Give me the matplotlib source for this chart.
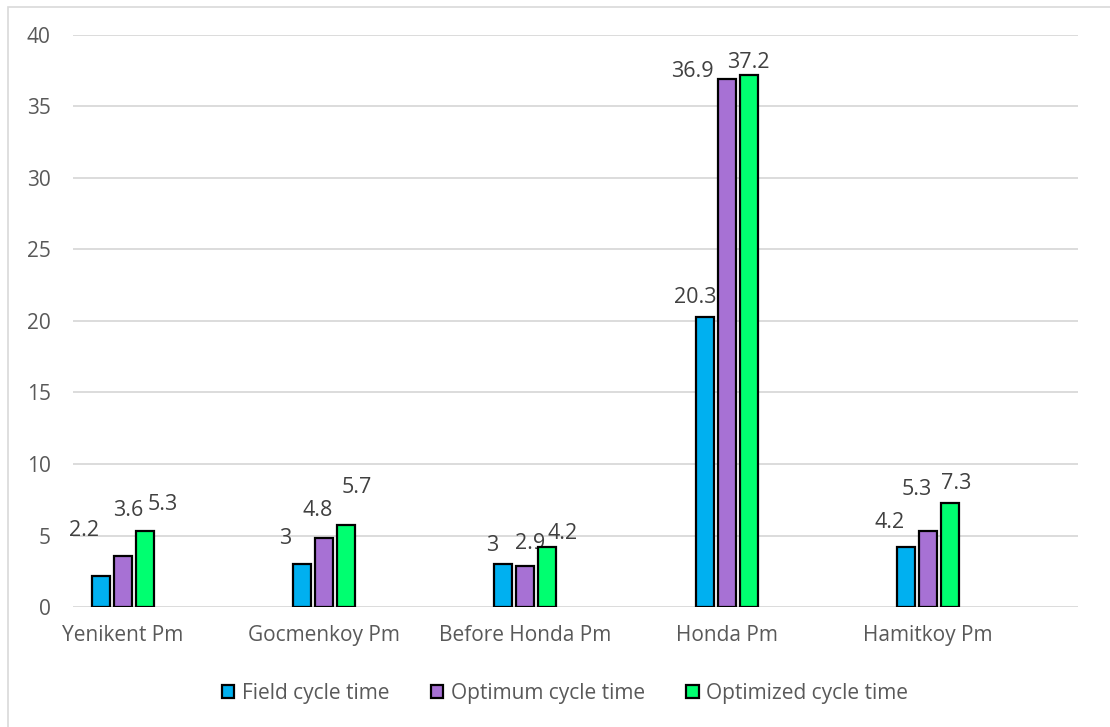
import matplotlib
matplotlib.use("Agg")
import matplotlib.pyplot as plt
import numpy as np
from matplotlib.patches import Rectangle

categories = ["Yenikent Pm", "Gocmenkoy Pm", "Before Honda Pm", "Honda Pm", "Hamitkoy Pm"]
series_names = ["Field cycle time", "Optimum cycle time", "Optimized cycle time"]
field = [2.2, 3, 3, 20.3, 4.2]
optimum = [3.6, 4.8, 2.9, 36.9, 5.3]
optimized = [5.3, 5.7, 4.2, 37.2, 7.3]
y_ticks = [0, 5, 10, 15, 20, 25, 30, 35, 40]

colors = ["#00B0F0", "#A771D4", "#00FF70"]
text_color = "#595959"

# hand-placed value label offsets (pixels from the bar top)
label_offsets = [
    [(-17, 45), (-17, 26), (-11, 19), (-9, 19), (-16, 24)],
    [(5, 45), (-7, 28), (5, 22), (-34, 8), (-11, 42)],
    [(18, 27), (11, 38), (15, 13), (0, 13), (6, 19)],
]

plt.rcParams["font.family"] = ["Open Sans", "DejaVu Sans"]

W, H = 1110, 727
fig = plt.figure(figsize=(W / 100, H / 100), dpi=100)
ax = fig.add_axes([73 / W, (H - 607) / H, (1078 - 73) / W, (607 - 35) / H])

x = np.arange(len(categories))
width = 0.0895
pitch = 0.1093
values = [field, optimum, optimized]
handles = []
for i, (name, vals, col) in enumerate(zip(series_names, values, colors)):
    pos = x + (i - 1) * pitch
    bars = ax.bar(pos, vals, width, color=col, edgecolor="black", linewidth=1.6,
                  label=name, zorder=3)
    handles.append(bars)
    for j, (p, v) in enumerate(zip(pos, vals)):
        dx, dy = label_offsets[i][j]
        ax.annotate(f"{v:g}", xy=(p, v), xytext=(dx, dy), textcoords="offset pixels",
                    ha="center", va="center", fontsize=15.5, color="#404040")

ax.set_xlim((73 - 123) / 201.2, (1078 - 123) / 201.2)
ax.set_ylim(0, 40)
ax.set_yticks(y_ticks)
ax.set_xticks(x)
ax.set_xticklabels(categories)
ax.tick_params(axis="both", length=0, colors=text_color, labelsize=15)
ax.tick_params(axis="y", pad=16)
ax.tick_params(axis="x", pad=13)
ax.grid(axis="y", color="#D9D9D9", linewidth=1.3, zorder=0)
for s in ax.spines.values():
    s.set_visible(False)

leg = fig.legend(handles=handles, labels=series_names, loc="center",
                 bbox_to_anchor=(565 / W, (H - 693) / H), ncol=3, frameon=False,
                 fontsize=15, handlelength=0.6, handleheight=0.6,
                 handletextpad=0.35, columnspacing=2.0, labelcolor=text_color)

# outer chart frame
fig.patches.append(Rectangle((8 / W, -0.05), 1.2, (H - 7) / H + 0.05,
                             transform=fig.transFigure, fill=False,
                             edgecolor="#D9D9D9", linewidth=1.2))

fig.savefig("out.png", dpi=100)
